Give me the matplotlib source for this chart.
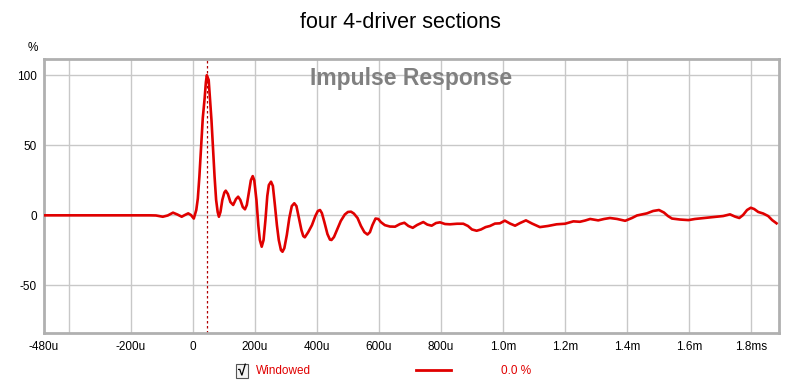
import matplotlib
matplotlib.use("Agg")
import matplotlib.pyplot as plt
from matplotlib.patches import Rectangle
from matplotlib.lines import Line2D

title = "four 4-driver sections"
panel_label = "Impulse Response"
legend_name = "Windowed"
legend_value = "0.0 %"

x_tick_values = [-480, -200, 0, 200, 400, 600, 800, 1000, 1200, 1400, 1600, 1800]
x_tick_labels = ["-480u", "-200u", "0", "200u", "400u", "600u", "800u",
                 "1.0m", "1.2m", "1.4m", "1.6m", "1.8ms"]
x_grid_values = [-400, -200, 0, 200, 400, 600, 800, 1000, 1200, 1400, 1600, 1800]
y_tick_values = [100, 50, 0, -50]
y_tick_labels = ["100", "50", "0", "-50"]
peak_time = 45

time_us = [-480, -300, -139, -119, -97, -81, -64, -50, -36, -26, -15, -6, 3, 11, 16, 21, 27, 32,
           38, 42, 45, 51, 55, 60, 64.5, 70, 75, 80, 84, 89, 95, 101.6, 106, 113, 121, 130, 139,
           146, 153, 161, 168, 174, 182, 187, 193, 198, 205, 211, 216, 222, 228, 234, 240, 245,
           252, 258, 264.5, 271, 277, 284, 289, 295, 303, 311, 319, 327, 334, 342, 350, 356, 361,
           372, 384, 395, 403, 410, 416, 424, 434, 442, 447, 455, 464.5, 477, 490, 500, 510, 519,
           531, 542, 553, 563, 571, 579, 589, 598, 606, 619, 635.5, 652, 668, 682, 695, 709, 723,
           743, 756, 770, 784, 797, 813, 829, 852, 872, 887, 900, 915, 929, 944, 958, 974, 990,
           1006, 1023, 1039, 1055, 1074, 1094, 1119, 1145, 1173, 1200, 1227, 1248, 1265, 1281,
           1307, 1326, 1345, 1368, 1394, 1416, 1432, 1464, 1484, 1503, 1519, 1532, 1545, 1571,
           1598, 1619, 1641, 1665, 1689, 1710, 1732, 1748, 1762, 1774, 1787, 1799, 1810, 1823,
           1839, 1855, 1868, 1882]
impulse_pct = [0, 0, 0, -0.1, -1.0, -0.1, 1.9, 0.6, -1.0, 0.2, 1.4, 0.2, -2.3, 3.8, 12, 27.6, 50, 69.5,
               83.6, 95, 100, 96.6, 83.6, 68, 50, 27.6, 11, 2.4, -1, 2.4, 11, 16.3, 17.6, 15.2, 9.5,
               7.4, 11.6, 13.3, 11, 5.9, 4.3, 7.4, 18, 25, 28, 25, 11, -7, -17.6, -22.4, -17.6, -3.4,
               13.8, 21.6, 24, 21, 7.4, -7, -17.6, -24.8, -26, -23.4, -14, -1.9, 6.6, 8.6, 6.6, -1.9,
               -10.5, -14.8, -15.7, -12, -7, -0.5, 3.1, 3.8, 1.6, -4.8, -13.4, -17.3, -17.6, -15.5,
               -10.5, -4, 0.6, 2.4, 2.6, 1.3, -1.9, -7.6, -12, -13.7, -12, -7, -2.3, -2.6, -4.8, -7,
               -8, -8.1, -6.2, -5.3, -7.6, -8.9, -6.9, -4.8, -6.6, -7.4, -5.5, -5, -6.2, -6.4, -6,
               -6, -7.6, -10.1, -11, -10.1, -8.4, -7.6, -5.9, -5.7, -3.8, -5.9, -7.4, -5.5, -3.6,
               -5.9, -8.4, -7.6, -6.4, -6, -4.3, -4.6, -3.7, -2.6, -3.6, -2.6, -1.9, -2.6, -3.9,
               -1.9, -0.1, 1.4, 3.1, 3.8, 2, -0.5, -2.3, -3, -3.4, -2.6, -2.1, -1.6, -1, -0.5, 0.7,
               -0.9, -1.9, 0.2, 3.8, 5.4, 4.5, 2.4, 1.3, -0.5, -3.4, -5.7]

plt.rcParams['font.family'] = ['Liberation Sans', 'DejaVu Sans']

fig = plt.figure(figsize=(8.0, 3.85), dpi=100)
ax = fig.add_axes([44/800, 1 - 333/385, (779 - 44)/800, (333 - 59)/385])

ax.set_xlim(-480, 1890)
ax.set_ylim(-84, 111.6)

for gx in x_grid_values:
    ax.axvline(gx, color='#c8c8c8', lw=1, zorder=1)
for gy in y_tick_values:
    ax.axhline(gy, color='#c8c8c8', lw=1, zorder=1)

ax.axvline(peak_time, color='#b00000', lw=0.9, ls=(0, (2, 2)), zorder=2)
ax.plot(time_us, impulse_pct, color='#e00000', lw=1.9, zorder=3, solid_joinstyle='round')

ax.set_xticks(x_tick_values)
ax.set_xticklabels(x_tick_labels, fontsize=8.5)
ax.set_yticks(y_tick_values)
ax.set_yticklabels(y_tick_labels, fontsize=8.5)
ax.tick_params(length=0, pad=6)
ax.tick_params(axis='y', pad=5)
for s in ax.spines.values():
    s.set_color('#b0b0b0')
    s.set_linewidth(2)

ax.text(0.5, 0.93, panel_label, transform=ax.transAxes, ha='center', va='center',
        fontsize=16.5, fontweight='bold', color='#808080', zorder=4)

fig.text(0.5, 1 - 22/385, title, ha='center', va='center', fontsize=15.5)
fig.text(33/800, 1 - 48/385, "%", ha='center', va='center', fontsize=8.5)

# legend row
fig.patches.append(Rectangle((236/800, 1 - 378/385), 12/800, 14/385, transform=fig.transFigure,
                             facecolor='#f4f4f4', edgecolor='#555555', lw=0.8))
fig.text(242/800, 1 - 370.5/385, "\u221a", ha='center', va='center', fontsize=10.5, fontweight='bold')
fig.text(256/800, 1 - 370.5/385, legend_name, ha='left', va='center', fontsize=8.5, color='#e00000')
fig.lines.append(Line2D([416/800, 451/800], [1 - 370/385, 1 - 370/385], transform=fig.transFigure,
                        color='#e00000', lw=2))
fig.text(501/800, 1 - 370.5/385, legend_value, ha='left', va='center', fontsize=8.5, color='#e00000')

fig.savefig("out.png", dpi=100)
